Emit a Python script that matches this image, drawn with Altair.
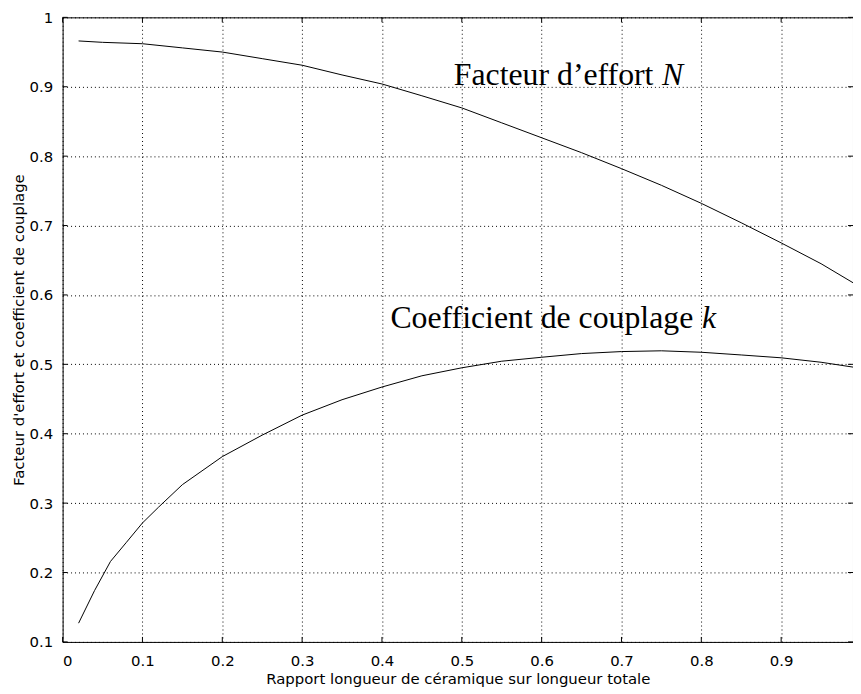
import altair as alt
import pandas as pd

# ---- data ----
x_N = [0.02, 0.05, 0.10, 0.15, 0.20, 0.25, 0.30, 0.35, 0.40, 0.45, 0.50,
       0.55, 0.60, 0.65, 0.70, 0.75, 0.80, 0.85, 0.90, 0.95, 0.99]
N_vals = [0.966, 0.964, 0.962, 0.956, 0.950, 0.9405, 0.931, 0.917, 0.904, 0.887, 0.8695,
          0.848, 0.8265, 0.805, 0.782, 0.758, 0.732, 0.704, 0.675, 0.645, 0.6176]

x_k = [0.02, 0.04, 0.06, 0.08, 0.10, 0.12, 0.15, 0.20, 0.25, 0.30, 0.35, 0.40,
       0.45, 0.50, 0.55, 0.60, 0.65, 0.70, 0.75, 0.80, 0.85, 0.90, 0.95, 0.99]
k_vals = [0.127, 0.174, 0.216, 0.2436, 0.2714, 0.294, 0.3266, 0.367, 0.398, 0.4268, 0.449, 0.4673,
          0.4835, 0.495, 0.5045, 0.5102, 0.5155, 0.5184, 0.5195, 0.5174, 0.5135, 0.5094, 0.503, 0.496]

x_ticks = [0, 0.1, 0.2, 0.3, 0.4, 0.5, 0.6, 0.7, 0.8, 0.9]
y_ticks = [0.1, 0.2, 0.3, 0.4, 0.5, 0.6, 0.7, 0.8, 0.9, 1.0]

x_title = "Rapport longueur de céramique sur longueur totale"
y_title = "Facteur d'effort et coefficient de couplage"

ann_text = ["Facteur d\u2019effort", "Coefficient de couplage"]
ann_italic = ["N", "k"]
ann_x = [0.49, 0.4106]
ann_y = [0.9025, 0.5523]
ann_dx = [209.7, 313.7]

# ---- build tables ----
df = pd.concat([
    pd.DataFrame({"x": x_N, "y": N_vals, "serie": "N"}),
    pd.DataFrame({"x": x_k, "y": k_vals, "serie": "k"}),
])
xt = pd.DataFrame({"x": x_ticks})
yt = pd.DataFrame({"y": y_ticks})

W, H = 796, 629
xs = alt.Scale(domain=[0, 0.99], nice=False, zero=False)
ys = alt.Scale(domain=[0.1, 1.0], nice=False, zero=False)

xaxis = alt.Axis(values=x_ticks, format="~g", title=x_title, labelPadding=12,
                 titlePadding=3)
yaxis = alt.Axis(values=y_ticks, format="~g", title=y_title, labelPadding=10,
                 titlePadding=3)
X = alt.X("x:Q", scale=xs, axis=xaxis)
Y = alt.Y("y:Q", scale=ys, axis=yaxis)

lines = alt.Chart(df).mark_line(color="black", strokeWidth=1).encode(
    x=X, y=Y, detail="serie:N")

tick_bottom = alt.Chart(xt).mark_rule(color="black").encode(
    x=X, y=alt.value(H), y2=alt.value(H - 5))
tick_top = alt.Chart(xt).mark_rule(color="black").encode(
    x=X, y=alt.value(0), y2=alt.value(5))
tick_left = alt.Chart(yt).mark_rule(color="black").encode(
    y=Y, x=alt.value(0), x2=alt.value(5))
tick_right = alt.Chart(yt).mark_rule(color="black").encode(
    y=Y, x=alt.value(W), x2=alt.value(W - 5))

layers = [lines, tick_bottom, tick_top, tick_left, tick_right]
for i in range(len(ann_text)):
    d = pd.DataFrame({"x": [ann_x[i]], "y": [ann_y[i]],
                      "t": [ann_text[i]], "it": [ann_italic[i]]})
    layers.append(alt.Chart(d).mark_text(
        align="left", baseline="alphabetic", font="Liberation Serif",
        fontSize=32, color="black").encode(x=X, y=Y, text="t:N"))
    layers.append(alt.Chart(d).mark_text(
        align="left", baseline="alphabetic", font="Liberation Serif",
        fontSize=32, fontStyle="italic", color="black", dx=ann_dx[i]).encode(
        x=X, y=Y, text="it:N"))

chart = alt.layer(*layers).properties(
    width=W, height=H,
    autosize=alt.AutoSizeParams(type="none"),
    padding={"left": 55, "top": 7, "right": 0, "bottom": 45},
    background="white",
).configure_view(
    stroke="black", strokeWidth=1
).configure_axis(
    grid=True, gridColor="black", gridDash=[1, 3], gridOpacity=1, gridWidth=1,
    domain=False, ticks=False, tickSize=0,
    labelFont="DejaVu Sans", labelFontSize=15, labelColor="black",
    titleFont="DejaVu Sans", titleFontSize=15, titleColor="black",
    titleFontWeight="normal",
)

chart.save("out.html", embed_options={"renderer": "svg", "actions": False})
